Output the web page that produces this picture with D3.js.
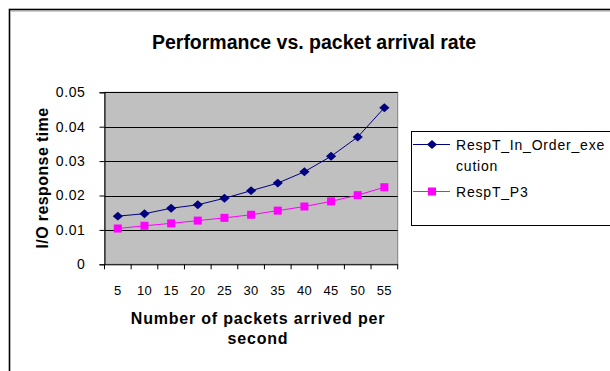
<!DOCTYPE html>
<html><head><meta charset="utf-8">
<script src="https://cdn.jsdelivr.net/npm/d3@7"></script>
<style>body{margin:0;background:#fff;} svg{display:block;font-family:"Liberation Sans",Arial,sans-serif;}</style>
</head><body>
<svg id="c" width="610" height="371"></svg>
<script>
const categories = ["5","10","15","20","25","30","35","40","45","50","55"];
const respInOrder = [0.0140,0.0147,0.0163,0.0173,0.0192,0.0214,0.0236,0.0269,0.0314,0.0370,0.0455];
const respP3 = [0.0104,0.0112,0.0119,0.0127,0.0135,0.0144,0.0156,0.0168,0.0183,0.0201,0.0224];
const yTicks = [0,0.01,0.02,0.03,0.04,0.05];
const seriesNames = ["RespT_In_Order_exe|cution","RespT_P3"];

const svg = d3.select("#c");
// outer border
svg.append("rect").attr("x",9.5).attr("y",9.5).attr("width",640).attr("height",400)
  .attr("fill","#fff").attr("stroke","#000").attr("stroke-width",1.6);
svg.append("line").attr("x1",10).attr("x2",610).attr("y1",11).attr("y2",11).attr("stroke","#999").attr("stroke-width",1);

const L=104.5,R=397.7,T=92.3,B=264.3;
const x = d3.scaleBand().domain(categories).range([L,R]);
const y = d3.scaleLinear().domain([0,0.05]).range([B,T]);

svg.append("rect").attr("x",L).attr("y",T).attr("width",R-L).attr("height",B-T)
  .attr("fill","#c0c0c0").attr("stroke","#808080").attr("stroke-width",1);

svg.append("g").selectAll("line").data(yTicks.filter(d=>d>0)).join("line")
  .attr("x1",L).attr("x2",R).attr("y1",d=>Math.round(y(d))+0.5).attr("y2",d=>Math.round(y(d))+0.5)
  .attr("stroke","#000").attr("stroke-width",1);

// y axis
const ya = svg.append("g").attr("transform",`translate(${L},0)`)
  .call(d3.axisLeft(y).tickValues(yTicks).tickFormat(d=>d===0?"0":d3.format(".2f")(d)).tickSize(5).tickPadding(14));
ya.select(".domain").attr("stroke","#000");
ya.selectAll("text").attr("font-size",14).attr("letter-spacing","0.6px").attr("fill","#000").attr("font-family","Liberation Sans, Arial, sans-serif");

// x axis
const xa = svg.append("g").attr("transform",`translate(0,${B})`)
  .call(d3.axisBottom(x).tickSize(0).tickPadding(21));
xa.select(".domain").attr("stroke","#000").attr("d",`M${L},0.5H${R}`);
xa.selectAll("text").attr("font-size",13).attr("letter-spacing","0.3px").attr("fill","#000").attr("font-family","Liberation Sans, Arial, sans-serif");
const bounds = categories.map(c=>x(c)).concat([R]);
xa.append("g").selectAll("line").data(bounds).join("line")
  .attr("x1",d=>d).attr("x2",d=>d).attr("y1",0).attr("y2",5).attr("stroke","#000");

// lines
const line = d3.line().x((d,i)=>x(categories[i])+x.bandwidth()/2).y(d=>y(d));
svg.append("path").datum(respInOrder).attr("d",line).attr("fill","none").attr("stroke","#000080").attr("stroke-width",1);
svg.append("path").datum(respP3).attr("d",line).attr("fill","none").attr("stroke","#ff00ff").attr("stroke-width",1);
const diamond = d3.symbol().type(d3.symbolDiamond2).size(50);
svg.append("g").selectAll("path").data(respInOrder).join("path")
  .attr("d",diamond).attr("transform",(d,i)=>`translate(${x(categories[i])+x.bandwidth()/2},${y(d)}) scale(1.15,1)`).attr("fill","#000080");
svg.append("g").selectAll("rect").data(respP3).join("rect")
  .attr("x",(d,i)=>x(categories[i])+x.bandwidth()/2-4).attr("y",d=>y(d)-4).attr("width",8).attr("height",8).attr("fill","#ff00ff");

// titles
svg.append("text").attr("x",314).attr("y",49).attr("text-anchor","middle").attr("font-size",19.5).attr("font-weight","bold").text("Performance vs. packet arrival rate");
svg.append("text").attr("transform",`translate(48,178) rotate(-90)`).attr("text-anchor","middle").attr("font-size",16).attr("letter-spacing","0.4px").attr("font-weight","bold").text("I/O response time");
const xt = svg.append("text").attr("text-anchor","middle").attr("font-size",16).attr("letter-spacing","0.8px").attr("font-weight","bold");
xt.append("tspan").attr("x",258).attr("y",324).text("Number of packets arrived per");
xt.append("tspan").attr("x",258).attr("y",344).text("second");

// legend
svg.append("rect").attr("x",411.5).attr("y",131.5).attr("width",220).attr("height",94).attr("fill","#fff").attr("stroke","#000").attr("stroke-width",1);
const ly=[144.5,191.5], cols=["#000080","#ff00ff"];
ly.forEach((yy,i)=>{
  svg.append("line").attr("x1",413).attr("x2",450).attr("y1",yy).attr("y2",yy).attr("stroke",cols[i]).attr("stroke-width",1);
  if(i===0) svg.append("path").attr("d",diamond).attr("transform",`translate(432,${yy}) scale(1.15,1)`).attr("fill",cols[i]);
  else svg.append("rect").attr("x",428).attr("y",yy-4).attr("width",8).attr("height",8).attr("fill",cols[i]);
  const parts = seriesNames[i].split("|");
  const t = svg.append("text").attr("font-size",14).attr("letter-spacing","0.8px").attr("fill","#000");
  parts.forEach((p,j)=>t.append("tspan").attr("x",456).attr("y",yy+5+j*21).text(p));
});
</script>
</body></html>
